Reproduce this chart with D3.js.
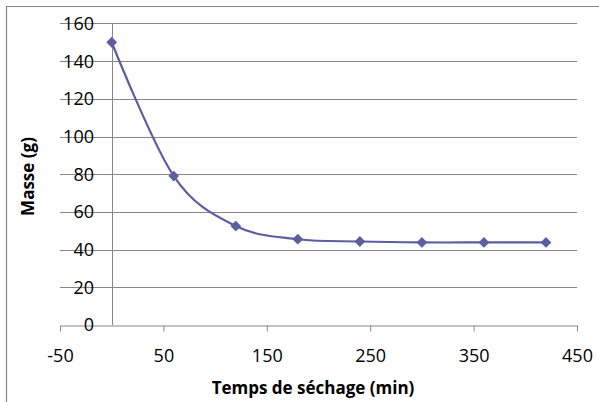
<!DOCTYPE html>
<html>
<head>
<meta charset="utf-8">
<script src="https://cdn.jsdelivr.net/npm/d3@7"></script>
<style>
  body { margin: 0; background: #fff; }
  svg { display: block; }
</style>
</head>
<body>
<div id="chart"></div>
<script>
// drying curve data
var temps = [0, 60, 120, 180, 240, 300, 360, 420];
var masse = [150, 79, 52.5, 45.5, 44.3, 43.8, 43.8, 43.8];
var xTicks = [-50, 50, 150, 250, 350, 450];
var yTicks = [0, 20, 40, 60, 80, 100, 120, 140, 160];

var svgWidth = 599, svgHeight = 402;
var plot = { left: 60, right: 577, top: 23.4, bottom: 325 };
var gridColor = "#878787";
var serieColor = "#5b5f9f";

var svg = d3.select("#chart").append("svg")
    .attr("width", svgWidth)
    .attr("height", svgHeight);

// chart area border (only top and left visible)
svg.append("path")
    .attr("d", "M6.5,402 L6.5,6.5 L599,6.5")
    .attr("fill", "none")
    .attr("stroke", gridColor)
    .attr("stroke-width", 1.2);

var x = d3.scaleLinear().domain([-50, 450]).range([plot.left, plot.right]);
var y = d3.scaleLinear().domain([0, 160]).range([plot.bottom, plot.top]);

var data = temps.map(function(t, i) { return { t: t, m: masse[i] }; });

// horizontal gridlines
svg.append("g").selectAll("line")
    .data(yTicks.filter(function(d) { return d > 0; }))
    .enter().append("line")
    .attr("x1", plot.left).attr("x2", plot.right)
    .attr("y1", function(d) { return Math.round(y(d)) + 0.5; })
    .attr("y2", function(d) { return Math.round(y(d)) + 0.5; })
    .attr("stroke", gridColor)
    .attr("stroke-width", 1);

// x axis at y = 0, ticks pointing down
var xAxis = svg.append("g")
    .attr("transform", "translate(0," + (Math.round(y(0)) + 0.5) + ")")
    .call(d3.axisBottom(x).tickValues(xTicks).tickSize(6).tickSizeOuter(0)
        .tickFormat(function(d) { return String(d); })); // plain hyphen, like excel
xAxis.select(".domain").attr("stroke", gridColor);
xAxis.selectAll(".tick line").attr("stroke", gridColor);
xAxis.selectAll(".tick text")
    .attr("y", 36)
    .attr("dy", 0)
    .attr("fill", "#000")
    .style("font-family", "'Open Sans', sans-serif")
    .style("font-size", "18px");

// y axis crossing at x = 0
var yAxisX = Math.round(x(0)) + 0.5;
svg.append("line")
    .attr("x1", yAxisX).attr("x2", yAxisX)
    .attr("y1", y(160)).attr("y2", y(0))
    .attr("stroke", gridColor);

// y labels sit beside the axis, on top of the gridlines
svg.append("g").selectAll("text")
    .data(yTicks)
    .enter().append("text")
    .attr("x", 94)
    .attr("y", function(d) { return y(d); })
    .attr("dy", "0.36em")
    .attr("text-anchor", "end")
    .style("font-family", "'Open Sans', sans-serif")
    .style("font-size", "18px")
    .text(function(d) { return d; });

// smoothed line (excel style)
var line = d3.line()
    .x(function(d) { return x(d.t); })
    .y(function(d) { return y(d.m); })
    .curve(d3.curveCardinal.tension(0));

svg.append("path")
    .datum(data)
    .attr("d", line)
    .attr("fill", "none")
    .attr("stroke", serieColor)
    .attr("stroke-width", 2.2);

svg.append("g").selectAll("path")
    .data(data)
    .enter().append("path")
    .attr("d", d3.symbol().type(d3.symbolSquare).size(58))
    .attr("transform", function(d) { return "translate(" + x(d.t) + "," + y(d.m) + ") rotate(45)"; })
    .attr("fill", serieColor);

// axis titles
svg.append("text")
    .attr("x", 313)
    .attr("y", 394)
    .attr("text-anchor", "middle")
    .style("font-family", "'Open Sans', sans-serif")
    .style("font-size", "17px")
    .style("font-weight", "bold")
    .text("Temps de séchage (min)");

svg.append("text")
    .attr("transform", "translate(34,176.5) rotate(-90)")
    .attr("text-anchor", "middle")
    .style("font-family", "'Open Sans', sans-serif")
    .style("font-size", "17px")
    .style("font-weight", "bold")
    .text("Masse (g)");
</script>
</body>
</html>
